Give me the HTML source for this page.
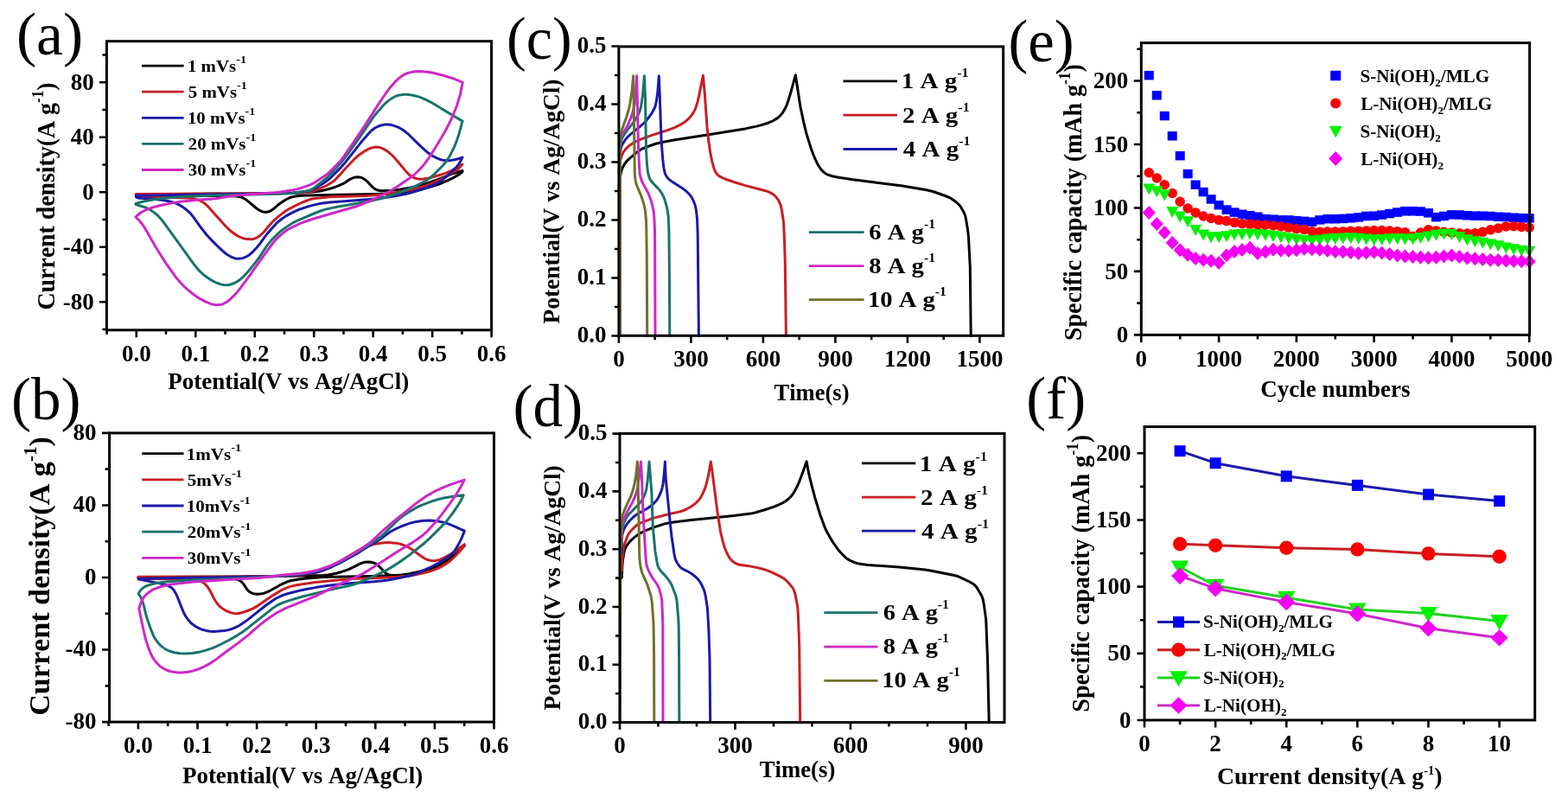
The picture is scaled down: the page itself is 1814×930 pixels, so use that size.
<!DOCTYPE html>
<html><head><meta charset="utf-8"><title>Electrochemical performance figure</title>
<style>html,body{margin:0;padding:0;background:#fff;overflow:hidden}svg{display:block}text{font-kerning:none}</style>
</head><body>
<svg width="1814" height="930" viewBox="0 0 1814 930" font-family="'Liberation Serif','Times New Roman',serif">
<rect width="1814" height="930" fill="#fff"/>
<path d="M716.5 388.3 716.6 298 717 214 717.5 205 718.1 200.5 718.9 197.6 720 194.6 721.4 191.8 723 189.1 724.9 186.6 728.2 183.4 736.5 176.4 740.2 173.7 742.9 172.2 748.6 169.8 752.9 168.2 758.8 166.3 766.2 164.5 781 161.7 824.5 155.1 862 148.9 874 146.4 879.9 144.9 888.6 142.2 894.2 139.8 899.5 136.6 902.8 133.6 905.6 130.1 908.6 125 910.4 120.8 912.4 115.1 915.4 104.8 920.3 86.8 925.9 123.2 929.7 141.1 932.5 152.9 934.2 158.7 938.3 171.8 941 179 943.4 184.6 946 190 948.3 193.8 950.1 196.2 953.3 199.4 955.7 201.1 958.4 202.4 962.8 203.7 970.3 205.3 986.8 207.8 1042.3 214.8 1070.5 219.5 1076.4 220.7 1080.8 222 1093.5 226.5 1099 228.8 1102.8 231.2 1106.4 234 1109.8 237.1 1111.6 239.4 1114.6 244.8 1115.9 247.6 1116.9 250.5 1118.3 257.9 1119.9 268.5 1120.5 274.5 1122.3 309.2 1123.2 388.3" stroke="#000000" stroke-width="3" fill="none" stroke-linejoin="round" stroke-linecap="round"/>
<path d="M716.8 388.3 716.9 251.5 717.3 193 717.6 187 718.1 184 718.9 181 720.8 176.8 722.4 174.3 724.2 172 726.4 169.9 728.7 167.9 733.8 164.5 737.9 162.5 747.9 158.7 756.4 155.7 772.4 150.6 780.9 147.4 786.3 144.7 790.3 142.4 794 139.7 797.4 136.6 799.4 134.3 801.9 130.6 804.1 126.6 805.2 123.9 806.9 118.1 808.7 110.8 813.4 87.3 815.3 108.7 818.1 147.9 820.3 167.3 821.7 176.2 824.1 188.1 826.2 195.2 827.9 199.3 829.6 201.6 831.9 203.6 836 205.8 840.2 207.5 848.9 210.5 860.6 214.1 885.6 220.7 888.4 221.7 891.2 222.9 895 225.2 896.2 226.2 898.2 228.3 900 230.8 901.5 233.4 903.2 237.6 904.2 241.9 906.1 253.8 906.6 258.3 907 265.9 908.2 299.1 909.4 388.3" stroke="#c81e23" stroke-width="3" fill="none" stroke-linejoin="round" stroke-linecap="round"/>
<path d="M717 388.3 717.1 251.5 717.4 185.5 717.5 178 717.9 173.5 718.5 170.6 719.6 167.8 721.9 163.9 724.5 160.2 726.5 158 728.8 155.9 740.8 146.1 745.3 142 748.4 138.5 751.2 134.9 753.9 131.1 756.2 127.1 757.5 124.4 758.5 121.5 759.6 115.6 760.8 106.6 762.3 87.8 763.2 109.1 765.1 163.3 766.9 186 768.1 195 769 199.4 770 202.1 770.7 203.4 772.4 205.8 774.5 207.9 778.1 210.6 791 218.8 794.5 221.7 797.7 224.9 800.3 228.4 802.3 232.4 804.4 238.1 805.3 242.5 806.5 253 807.2 271 808.4 388.3" stroke="#1a1aa8" stroke-width="3" fill="none" stroke-linejoin="round" stroke-linecap="round"/>
<path d="M717 388.3 717.2 245.5 717.5 175 717.7 167.5 718.2 164.5 718.9 161.7 720.9 157.6 725.3 151.2 734.6 139.3 737.6 134.1 740.1 128.7 741 125.8 741.6 122.9 743.6 109.6 745.4 87.8 746.5 112.1 747.5 173.6 748.6 191.8 749.6 199.3 750.6 203.8 751.7 206.6 752.4 208 755.1 211.5 761.5 218.1 763.4 220.4 765.1 222.8 767.3 226.8 769 231 770.7 236.8 772.1 242.7 773 248.7 773.7 259.5 773.9 268.5 774.3 301.5 774.8 388.3" stroke="#19736c" stroke-width="3" fill="none" stroke-linejoin="round" stroke-linecap="round"/>
<path d="M717 388.3 717.2 248.5 717.6 164.5 718.1 160 719 157.2 720.2 154.5 724.4 148 726.6 144 730.2 135.6 732 129.8 734.1 120.8 734.8 116.3 736.7 87.8 738.6 172.1 739.7 194.7 740.1 200.7 741 205.1 742.5 209.5 744.5 213.6 749 221.5 750.9 225.7 753 231.4 754.3 235.8 755.6 241.9 756.4 246.4 756.8 250.9 757.5 266 757.7 293 758 388.3" stroke="#cd28c8" stroke-width="3" fill="none" stroke-linejoin="round" stroke-linecap="round"/>
<path d="M717 388.3 717.2 248.5 717.6 161.5 718.2 155.5 719.1 151.1 724.8 135.2 727.4 126.5 728.5 122.1 731.2 104.2 732.7 87.8 734 178.1 734.3 197.7 734.6 203.7 735.1 208.2 736 212.6 737 215.4 741.3 225.3 743.8 232.6 745.1 237.1 746.1 241.6 746.7 246.2 747.5 255.4 747.8 264.5 748.3 299 748.7 388.3" stroke="#70702d" stroke-width="3" fill="none" stroke-linejoin="round" stroke-linecap="round"/>
<path d="M719.3 668.3 719.9 654.6 720.4 648.5 721.8 639.5 723 635.1 725 631.1 728.7 626.3 733.2 622.1 739.2 617.6 744.6 614.7 754.5 610.6 767.4 606.4 773.3 604.9 779.3 604 797.5 601.8 849 596.5 868.6 594.1 874.5 592.8 886.1 589.2 894.8 586.3 900.4 584.1 906 581.5 909.8 579 912.2 577 914.4 574.9 916.4 572.6 918.2 570.1 921.9 563.3 925 556.3 928.8 546.3 933.1 533.7 935 544.3 936.3 550.4 938.9 560.8 942.8 575.6 948.6 594.7 954.4 610.4 956.3 614.5 960.7 622.5 963.1 626.4 965.6 630.2 969.2 635.2 972.2 638.7 976.3 643.1 979.7 646.1 983.5 648.4 987.6 650.2 991.9 651.6 996.4 652.5 1004 653.4 1040.3 656 1070.2 659.1 1077.6 660.2 1102.7 665.2 1107 666.2 1109.8 667.3 1122 673.2 1124.6 674.6 1127 676.3 1128.1 677.2 1130 679.4 1134.6 687.2 1135.9 689.9 1137 692.7 1138.2 698.6 1140.7 716.6 1142.5 761.9 1144.2 835.6" stroke="#000000" stroke-width="3" fill="none" stroke-linejoin="round" stroke-linecap="round"/>
<path d="M719.3 660 720 645 720.7 638.9 721.7 632.9 722.9 628.5 725.4 621.4 727.3 617.4 729 615 733.1 610.7 736.5 607.6 739 606 741.7 604.6 751.7 600.8 757.5 598.9 773.6 594.8 785.5 592.1 789.9 590.8 794.1 589 798.2 586.8 802 584.3 805.5 581.4 808.6 578.2 810.4 575.8 813.3 570.4 815.7 564.7 817 560.4 819.5 550.2 822.3 533.9 824.6 550.3 830 592.4 833.5 614.8 836.3 626.5 838.4 633.7 840.7 639.3 843.6 644.7 845.3 647.1 847.5 649.2 850 651 852.7 652.3 855.5 653.2 864.6 654.4 875 656.4 882.5 658.2 888.3 660.2 892.6 661.9 903.5 667.2 906.1 668.7 908.6 670.5 911.8 673.6 916.6 679.5 918.2 682 919.2 684.7 920.3 689.1 922.3 699.5 922.9 703.9 923.3 710 924.7 746.2 925.7 835.6" stroke="#c81e23" stroke-width="3" fill="none" stroke-linejoin="round" stroke-linecap="round"/>
<path d="M719.3 640 719.5 623.3 719.8 618.8 720.9 614.4 722.1 611.6 724.4 607.6 726.2 605.1 728.1 602.8 732.4 598.5 734.7 596.5 738.4 593.9 745.2 590.3 749.2 588 752.9 585.3 756.4 582.3 759.4 579 761.1 576.5 763.2 572.4 765.5 566.7 766.2 563.8 767 559.4 768 551.8 769.4 534 770.2 553.7 776.1 612.7 777 620.2 779.8 639.8 781 645.7 782.1 648.5 783.5 651.2 785.2 653.8 787 656.1 789.3 657.9 796 661.2 799.9 663.5 804.7 667.2 807.9 670.4 810.5 674.1 813.9 681 815.3 685.3 816.3 689.8 817.7 698.7 818.5 704.7 819.9 729 821 762 821.7 835.6" stroke="#1a1aa8" stroke-width="3" fill="none" stroke-linejoin="round" stroke-linecap="round"/>
<path d="M719.3 630 719.5 616.4 719.8 611.9 720.8 607.5 723.2 601.7 725.3 597.7 727.2 595.3 738.8 583.4 741.7 579.9 743.4 577.4 744.8 574.8 746 572.1 747 569.2 748 564.8 749.2 555.7 751.1 534 753.9 570.4 755.2 608 758 637.9 760 650 761 654.4 762.1 657.1 762.9 658.4 764.7 660.7 768.9 665.1 771.8 668.6 774.5 672.3 776.8 676.2 778.6 680.4 781.7 689 782.5 692 783.2 696.4 784.8 715.9 785.2 724.9 785.6 761 785.8 835.6" stroke="#19736c" stroke-width="3" fill="none" stroke-linejoin="round" stroke-linecap="round"/>
<path d="M719.3 625 719.5 611.5 719.7 608.5 720.1 605.6 721.5 601.2 724 595.5 726 591.4 731.8 580.8 734.9 573.7 736.4 569.3 737.4 564.8 739.1 554.2 741.4 534 742.5 552.2 743.6 584 745 611.2 747.1 645.7 747.7 651.7 748.3 654.6 749.3 657.5 752.4 664.5 754.8 668.4 759.4 674.6 761.5 678.5 762.6 681.3 764.3 687.1 765.3 691.5 765.7 694.4 766.5 712.4 766.8 722.9 767 835.6" stroke="#cd28c8" stroke-width="3" fill="none" stroke-linejoin="round" stroke-linecap="round"/>
<path d="M717.3 835.6 717.8 643.5 719.3 602.9 719.8 598.5 720.9 594.1 723.7 587.1 729.6 574.4 731.6 568.7 733.3 562.9 734.3 558.5 735.8 549.4 737.4 534 738.2 562.5 739.7 640.5 740.2 649.5 741.4 657.2 742.5 661.7 743.6 664.5 748.7 675.7 751 682.8 753.2 690 754.2 695.9 755.8 716.9 756.1 724.4 756.6 759 756.8 835.6" stroke="#70702d" stroke-width="3" fill="none" stroke-linejoin="round" stroke-linecap="round"/>
<path d="M157.3 225.2 201 224.6 336 223.4 346.5 223.1 355.5 222.6 366.1 221.6 370.6 221 376.5 219.6 385.3 217.2 391 215.2 396.5 212.7 399.1 211.2 404.1 207.8 406.8 206.4 409.7 205.3 411.2 205 414.2 204.8 417.1 205.2 418.6 205.7 421.2 207 424.7 209.8 430 215.4 432.2 217.5 434.8 219.2 436.2 219.8 439.1 220.6 442.1 220.8 452.8 220.3 460.4 219.5 472.5 217.6 488.7 213.6 494.5 211.8 505.9 207.8 524.2 200.7 535 197.5 534.8 199 533.8 199.9 531.5 201.6 525 205.3 515.3 209.8 508.3 212.8 503.9 214.3 493.6 217.4 486.3 219.3 471.5 222 459.3 223.3 451.8 223.9 435.1 224.5 356.6 226 349.1 226.3 341.5 227.1 337.1 228 334.2 229.1 331.4 230.5 327.5 232.9 323.7 235.4 316.8 241.3 314.4 243.1 311.7 244.5 308.9 245.3 307.4 245.4 304.5 245 303.1 244.6 300.4 243.4 297.9 241.8 295.5 240 287.4 233.1 283.8 230.4 279.9 228.3 275.6 227.2 271 226.8 263.4 226.6 162.3 226.5 158 226.2 157.3 225.2" stroke="#000000" stroke-width="3" fill="none" stroke-linejoin="round" stroke-linecap="round"/>
<path d="M157.3 224.6 256.5 224.1 336 223.4 349.5 223 354 222.6 356.9 222.1 364.3 220.2 371.3 217.6 376.8 215.2 383.3 211.4 386.9 208.7 389 206.7 401.2 193.2 410.7 183.3 414.1 180.2 420.4 175.7 425.7 172.6 430.1 170.9 434.5 170.1 437.5 170.2 440.3 170.9 444.4 172.6 448.2 175 451.7 177.8 456 182 460.1 186.7 469.8 198.4 473 201.7 475.4 203.6 478.1 205.2 479.5 205.8 482.4 206.7 486.9 207.2 489.9 207 493 206.6 499 205.3 509.3 202.3 516.5 199.9 520.6 198.2 524.6 196.1 535 190.1 530.9 194.6 527.5 197.6 522.4 200.8 515.9 204.6 506.2 209.1 497.8 212.8 484.9 217.3 479.1 218.9 461.4 222.3 449.2 224.2 440.1 225.2 431 226 423.4 226.5 408.3 227.1 380.9 227.7 364.5 229.4 360.1 230.2 357.2 231.1 350.1 234 343.2 237.2 335 241.3 329.8 244.5 322.4 250.1 316.6 255.3 312.4 259.8 305.5 268 303.4 270.2 301.1 272.2 298.7 274 296 275.4 293.2 276.4 290.2 276.8 285.7 276.6 282.7 276 279.8 275.1 276.9 273.9 274.2 272.5 269.1 269 264.5 265 260.2 260.7 239.8 238 235.2 234.1 231.3 231.9 228.5 230.9 225.5 230.1 222.5 229.6 218 229.1 200 228.6 165.3 228.1 161 227.9 158.4 227.3 157.5 226.7 157.3 224.6" stroke="#c81e23" stroke-width="3" fill="none" stroke-linejoin="round" stroke-linecap="round"/>
<path d="M157.3 226.2 295.5 224.3 333 223.4 339 223.1 343.5 222.7 354 221.3 358.4 220.4 361.2 219.4 363.9 218.1 374.3 211.9 378.1 209.3 382.6 205.4 394.4 193.6 398.5 189.1 417.1 165.3 426 155 430.1 150.7 433.8 148 437.9 146 440.7 145 445.2 144.1 449.7 144 454.2 144.9 459.9 146.9 462.6 148.2 465.3 149.7 469 152.3 471.4 154.3 486.8 169.4 494.9 176.6 499.9 180.1 506.6 183.4 509.4 184.5 512.3 185.2 516.9 185.8 520 185.7 526.1 184.7 530.6 183.5 535 182.1 532.9 186.3 531.2 189 528.5 192.8 526.4 195.1 520.9 200.5 511.4 208.3 507.7 211 503.7 213 493.9 217 486.7 219.5 475 223 469.1 224.5 455.8 227 442.1 229.1 434.6 230 382 233.9 373 235 364 236.9 358.1 238.4 347.8 241.7 342.2 244 335.4 247.4 331.4 249.6 326.3 253 321.4 256.8 319.2 258.9 309 270.6 306.2 274.2 300 282.8 297.1 286.3 292.9 290.8 289.5 293.9 285.8 296.5 281.6 298.4 278.7 299.1 275.7 299.3 272.7 299 271.3 298.7 268.5 297.7 263.3 294.7 260.8 293 257.4 290.2 253 286 246.5 279.6 239.1 271.7 232.5 263.3 223.6 250.9 220.7 247.3 218.6 245.1 215 242.1 210 238.6 206.1 236.3 203.3 235.1 200.4 234.1 196 232.9 190 231.7 184 230.9 175 230.1 164.4 229.6 160.1 229.1 157.7 228.4 157.3 227.2 157.3 226.2" stroke="#1a1aa8" stroke-width="3" fill="none" stroke-linejoin="round" stroke-linecap="round"/>
<path d="M157 235.5 166.1 233 178.2 230.8 185.7 229.8 207 227.8 216 227.3 258 225.7 300 224.8 336 223.7 342 223.1 351 221.6 356.9 220.4 359.7 219.4 362.3 218 364.8 216.3 377.8 206 382.1 201.7 396.3 186 400.9 180.1 415.9 159.1 432.1 135.2 435.9 130.5 443.8 121.5 448.2 117.4 453 113.9 456.9 111.7 461.1 110.2 467 109.3 470 109.2 473 109.4 482 111.2 487.7 113.2 494.7 116.4 500.2 119.2 535 140.1 531 154.9 528.6 162.2 525.2 170.8 520.4 180.2 516.4 186.5 512.5 191.3 501.6 202.2 497 206.2 493.1 208.7 487.8 211.7 479.6 215.8 465.4 221.5 449.6 227.1 442.3 229.2 429 232.4 393 238.8 381 241.1 376.6 242.1 370.8 244 359.6 248.5 344.3 255.1 338.9 257.7 333.8 260.9 325.2 267 320.7 271.1 314.2 277.6 311.3 281.1 308.6 284.7 300.1 297.4 295.5 303.6 287.8 313.2 281.6 319.9 278.2 323 274.5 325.7 270.4 327.8 266.1 329.2 263.1 329.7 258.6 329.5 255.7 328.9 251.4 327.5 247.3 325.6 243.4 323.4 238.4 320 234.8 317.1 230.2 312.8 224.3 305.6 191.3 259.9 187.6 255 183.6 250.4 181.4 248.3 177.9 245.5 172.9 242.2 167.4 239.7 157.3 236.5 157 235.5" stroke="#19736c" stroke-width="3" fill="none" stroke-linejoin="round" stroke-linecap="round"/>
<path d="M157 251 159.4 248.7 163.2 245.8 167.2 243.5 171.5 241.6 177.3 239.8 186.1 237.5 201.1 234.4 208.6 233.3 231.3 231.1 249.5 229.7 266.2 227.1 282.9 225.3 293.5 224.4 317.8 222.8 323.8 222.2 337.3 220.1 343.3 218.9 349.2 217.2 357.9 214.2 360.6 212.9 364.6 210.7 374.8 204 378.5 201.4 384.1 196.2 393.7 186.3 397.3 181.6 409.4 164.2 422.9 143.9 437.6 120.9 447 107 450.7 102.1 457.7 94.1 461 90.9 464.6 88.2 467.1 86.6 469.8 85.2 472.6 84.3 475.5 83.6 480 82.8 484.5 82.5 492 82.9 496.5 83.5 501 84.3 514.4 87.7 525.9 91.4 535.2 95.4 532.5 108.9 528.6 122 523 136 517 148.2 514.1 153.5 502.3 173.1 496.5 182 492.2 188.2 489.4 191.8 486.3 195.1 480.9 200.5 478.6 202.6 475 205.3 462.4 214.1 457.2 217.4 450.7 221.2 441.3 226.2 428.9 232 417.8 236.7 412.2 238.8 365.3 252.3 356.7 255 348.2 258.2 342.7 260.6 334.5 264.6 330.7 267 327.1 269.8 321.4 274.9 318.2 278.2 316.3 280.5 304.6 296.3 289.6 317.7 277.7 333.8 274.8 337.4 270.7 341.9 266.3 346.3 262.7 349.1 258.7 351.3 256 352.3 254.5 352.6 250.1 352.7 247.2 352.3 244.3 351.6 238.7 349.4 231.9 345.9 225.5 341.7 218.2 336 212.4 330.8 208.2 326.3 204.2 321.6 192.6 305.5 189.3 300.4 180.4 286.2 169.9 267.7 166.7 262.5 164.1 258.7 161.2 255.1 157.4 251.5" stroke="#cd28c8" stroke-width="3" fill="none" stroke-linejoin="round" stroke-linecap="round"/>
<path d="M160 667.6 281.5 667 352.2 666 374.8 665.6 379.3 665.1 383.7 664.3 389.7 663 394 661.8 399.7 659.9 404 658.3 417.6 651.6 421.9 650.3 426.4 649.9 429.3 650.2 432.1 651 434.8 652.2 436 653 438.3 654.8 444.5 661.4 446.8 663.3 449.3 664.6 452.1 665.3 455.1 665.5 459.6 665.6 462.6 665.4 483.7 662.3 489.6 661.2 495.4 659.4 509.5 653.7 512.2 652.4 514.8 650.9 521 646.2 526.8 641.2 537.3 631.2 532.1 636.7 528.7 639.9 522.8 644.6 517.7 647.9 509.7 652.3 504.2 654.9 492.6 659.2 485.3 661.2 473.6 663.7 464.6 664.9 458.6 665.5 430 666.5 374.5 667.5 355 668.9 346 670 337.1 671.5 331.3 673.3 323.2 677.2 313.8 682.5 309.7 684.6 305.4 686.2 301 687.1 298.1 687.3 295.1 687.1 292.2 686.4 289.5 685 288.2 684.2 286.1 682.1 281.9 675.9 280 673.6 278.9 672.6 277.7 671.7 275 670.3 270.6 669.3 263 669 165.5 668.6 161.2 668.4 160 668.1 160 667.6" stroke="#000000" stroke-width="3" fill="none" stroke-linejoin="round" stroke-linecap="round"/>
<path d="M160 667.2 250 667 316 666.5 326.5 666.2 349 664.9 355 664.1 367 661.9 371.4 660.7 375.6 659 382.6 655.9 386.6 653.8 402 644 415.1 636.4 420.6 633.8 427.6 631 430.5 630 434.9 629 442.5 627.9 448.5 627.6 457.6 628.2 460.5 628.6 463.5 629.4 469.2 631.5 473.3 633.5 477.2 636 488.4 644.2 490.9 645.8 493.6 647 496.4 648 499.3 648.6 500.7 648.7 503.7 648.5 508.1 647.6 512.3 645.9 516.3 643.9 522.8 640.1 537.3 629.7 534.1 634.9 531.3 638.5 525 645 520.6 649 515.6 652.4 507.8 656.9 503.7 658.7 499.4 660.2 492.1 662.3 487.7 663.4 478.6 665.2 471.1 666.2 462.1 667.1 454.6 667.6 431.9 668.7 410.5 669.3 401.3 669.9 364.9 673.5 349.7 675.7 340.6 677.3 336.2 678.4 331.8 679.9 327.6 681.7 324.8 683.1 315.8 688.6 298.4 700.6 293.2 703.6 287.6 706 281.9 708 277.5 709.2 274.5 709.7 273 709.7 270 709.4 265.6 708.2 262.8 707 260 705.6 257.4 703.9 255 702.1 251.8 698.8 249.2 695 247.6 692.4 243.5 684.1 240.2 678.9 238.2 676.6 236 674.5 233.4 672.9 232.1 672.2 230.7 671.7 227.7 671 223.1 670.4 218.5 670.1 169 669.6 163.1 669.4 160.5 668.9 160 667.8 160 667.2" stroke="#c81e23" stroke-width="3" fill="none" stroke-linejoin="round" stroke-linecap="round"/>
<path d="M160.2 669.5 201 668.5 261 667.8 318 666.8 343.5 665.1 359.9 663 364.4 662.2 367.3 661.5 377.5 658.2 383.2 656 392.8 651.4 410.1 641.9 416.7 638.1 428.3 630.6 439 624.3 448.9 617 452.7 614.5 458.2 611.6 463.9 609 469.5 606.8 475.2 604.9 482.6 603.2 490.2 602.2 497.9 602.1 505.4 602.7 512.8 604.1 518.5 605.9 526.9 609.3 537.3 614.2 534.5 621.6 530.4 629.8 526.5 636.3 524.7 638.7 522.6 641 520.2 643 517.8 644.8 507.4 651.2 498 656.2 488.3 660.7 479.8 664.1 474.1 666 462.1 668.5 448.5 670.9 442.5 671.8 433.4 672.7 401.3 675.1 380.1 677.3 364.9 679.6 353.1 681.8 344.3 683.8 332.5 686.8 328.2 688.2 323.9 690 319.8 692 315.9 694.4 307.2 700.5 286.9 716.6 280.7 721 276.9 723.5 272.9 725.5 267.3 727.8 264.4 728.6 259.8 729.5 248.9 730.4 245.9 730.4 242.8 730.2 238.4 729.4 234 728.3 231.1 727.2 227 725.1 223.2 722.5 220.9 720.5 217.8 717.2 215.2 713.4 212.9 709.4 211 705.2 205.6 691.2 203.7 687 201.4 683 199.4 680.7 198.3 679.7 197 678.9 194.4 677.4 190.2 676 181.3 674.1 161.9 670.4 160.4 670 160.2 669.5" stroke="#1a1aa8" stroke-width="3" fill="none" stroke-linejoin="round" stroke-linecap="round"/>
<path d="M160.2 686.9 161.6 684.1 163.4 681.8 165.7 679.9 168.2 678.3 171 677.2 175.4 675.8 181.4 674.5 187.3 673.5 194.8 672.8 220.5 671 294 668.2 304.5 667.6 330 665.5 348 663.7 361.4 661.5 368.8 659.6 380.4 655.7 390 651.3 395.4 648.5 410.1 640.4 419.3 635 436.1 624.1 439.8 621.5 444.3 617.4 458.3 603.5 461.7 600.4 465.3 597.6 471.5 593.3 481.8 587.1 485.8 585.1 492.9 582.3 501.6 579.2 507.4 577.5 513.4 576 519.4 574.9 527 573.8 536.2 572.8 534.1 577.2 531.1 582.5 527.8 587.7 523.5 593.9 517.9 601.2 513.7 605.9 509.5 610.3 496.6 623.1 491 628.2 472.8 642.6 461.8 650.5 455.4 654.6 447.6 659.2 440.9 662.6 425.7 669.5 411.4 675.4 403.9 677.5 380.1 682.6 349.2 690.3 333 695.1 328.6 696.6 324.4 698.4 320.3 700.4 316.4 702.9 287.7 725.7 280.2 731.2 275 734.6 265.8 740 255 745.5 246.6 749.4 239.3 751.9 231.9 753.9 223 755.4 215.4 756 207.7 755.8 201.6 754.7 195.8 753 191.7 751.1 186.9 747.6 184.7 745.6 181.8 742.2 179.2 738.4 177.1 734.4 173.7 725.8 170.2 715.6 168.9 711.2 166.4 700.6 164.6 694.7 162.7 690.4 160.2 686.9" stroke="#19736c" stroke-width="3" fill="none" stroke-linejoin="round" stroke-linecap="round"/>
<path d="M160.8 703.7 162.2 699.3 164.6 693.7 167 689.9 170.2 686.7 173.8 684 176.4 682.4 179.2 681.1 184.9 679 192.2 677 198.2 676 205.6 674.9 223.9 673.1 258.5 670.7 299 668.6 329 665.1 347 663.3 354.5 662.2 363.4 660.5 369.3 658.9 379.4 655.5 383.6 653.8 391.9 649.9 404.1 643.4 414.5 637 427 628.5 431.7 624.6 441.6 615 452 605.8 481.8 581.9 493 574 502.3 568.7 512 564.1 522.1 560.2 537.3 555.1 532.1 564.8 528.3 571.3 519.6 583.7 510.5 595.9 503.8 604.1 494.7 614.1 490.2 618.2 482.9 623.8 477.9 627.1 461.1 637.3 444.6 648 426.5 659.4 421.3 662.6 417.3 664.8 410.4 668.1 396.1 674.1 364.8 689.6 331.4 703.2 326 705.8 319.3 709.4 314.2 712.7 306.8 718 298.5 724.7 287.2 734.6 282.4 738.4 275.1 744.1 263.8 752.2 248.1 764.1 244.3 766.6 240.4 768.9 235 771.7 230.9 773.5 223.8 775.9 217.9 777.3 210.2 778.1 205.6 778 199.7 777.1 196.7 776.5 193.8 775.5 191 774.3 188.4 772.8 185.8 771.1 183.5 769.1 179.4 764.5 176.7 760.7 174.1 755.3 171.3 748.2 168.5 739.3 167 733.2 163 715 160.8 703.7" stroke="#cd28c8" stroke-width="3" fill="none" stroke-linejoin="round" stroke-linecap="round"/>
<rect x="1323.78" y="81.93" width="11" height="10.5" fill="#0000fa"/>
<rect x="1332.76" y="105" width="11" height="10.5" fill="#0000fa"/>
<rect x="1341.73" y="128.81" width="11" height="10.5" fill="#0000fa"/>
<rect x="1350.71" y="152.03" width="11" height="10.5" fill="#0000fa"/>
<rect x="1359.69" y="174.95" width="11" height="10.5" fill="#0000fa"/>
<rect x="1368.67" y="195.82" width="11" height="10.5" fill="#0000fa"/>
<rect x="1377.65" y="208.46" width="11" height="10.5" fill="#0000fa"/>
<rect x="1386.62" y="216.83" width="11" height="10.5" fill="#0000fa"/>
<rect x="1395.6" y="225.21" width="11" height="10.5" fill="#0000fa"/>
<rect x="1404.58" y="231.97" width="11" height="10.5" fill="#0000fa"/>
<rect x="1413.56" y="237.4" width="11" height="10.5" fill="#0000fa"/>
<rect x="1422.54" y="240.34" width="11" height="10.5" fill="#0000fa"/>
<rect x="1431.51" y="242.55" width="11" height="10.5" fill="#0000fa"/>
<rect x="1440.49" y="244.02" width="11" height="10.5" fill="#0000fa"/>
<rect x="1449.47" y="245.49" width="11" height="10.5" fill="#0000fa"/>
<rect x="1458.45" y="247.98" width="11" height="10.5" fill="#0000fa"/>
<rect x="1467.43" y="248.43" width="11" height="10.5" fill="#0000fa"/>
<rect x="1476.4" y="249.16" width="11" height="10.5" fill="#0000fa"/>
<rect x="1485.38" y="249.16" width="11" height="10.5" fill="#0000fa"/>
<rect x="1494.36" y="249.89" width="11" height="10.5" fill="#0000fa"/>
<rect x="1503.34" y="250.63" width="11" height="10.5" fill="#0000fa"/>
<rect x="1512.32" y="251.36" width="11" height="10.5" fill="#0000fa"/>
<rect x="1521.29" y="249.16" width="11" height="10.5" fill="#0000fa"/>
<rect x="1530.27" y="247.98" width="11" height="10.5" fill="#0000fa"/>
<rect x="1539.25" y="247.98" width="11" height="10.5" fill="#0000fa"/>
<rect x="1548.23" y="247.69" width="11" height="10.5" fill="#0000fa"/>
<rect x="1557.21" y="247.1" width="11" height="10.5" fill="#0000fa"/>
<rect x="1566.18" y="246.22" width="11" height="10.5" fill="#0000fa"/>
<rect x="1575.16" y="244.75" width="11" height="10.5" fill="#0000fa"/>
<rect x="1584.14" y="244.46" width="11" height="10.5" fill="#0000fa"/>
<rect x="1593.12" y="243.28" width="11" height="10.5" fill="#0000fa"/>
<rect x="1602.1" y="241.81" width="11" height="10.5" fill="#0000fa"/>
<rect x="1611.07" y="240.34" width="11" height="10.5" fill="#0000fa"/>
<rect x="1620.05" y="239.02" width="11" height="10.5" fill="#0000fa"/>
<rect x="1629.03" y="239.02" width="11" height="10.5" fill="#0000fa"/>
<rect x="1638.01" y="239.31" width="11" height="10.5" fill="#0000fa"/>
<rect x="1646.99" y="241.08" width="11" height="10.5" fill="#0000fa"/>
<rect x="1655.96" y="245.93" width="11" height="10.5" fill="#0000fa"/>
<rect x="1664.94" y="244.75" width="11" height="10.5" fill="#0000fa"/>
<rect x="1673.92" y="243.14" width="11" height="10.5" fill="#0000fa"/>
<rect x="1682.9" y="243.28" width="11" height="10.5" fill="#0000fa"/>
<rect x="1691.88" y="244.02" width="11" height="10.5" fill="#0000fa"/>
<rect x="1700.85" y="244.46" width="11" height="10.5" fill="#0000fa"/>
<rect x="1709.83" y="244.46" width="11" height="10.5" fill="#0000fa"/>
<rect x="1718.81" y="244.75" width="11" height="10.5" fill="#0000fa"/>
<rect x="1727.79" y="245.49" width="11" height="10.5" fill="#0000fa"/>
<rect x="1736.77" y="245.78" width="11" height="10.5" fill="#0000fa"/>
<rect x="1745.74" y="246.52" width="11" height="10.5" fill="#0000fa"/>
<rect x="1754.72" y="246.96" width="11" height="10.5" fill="#0000fa"/>
<rect x="1763.7" y="247.1" width="11" height="10.5" fill="#0000fa"/>
<ellipse cx="1329.28" cy="199.74" rx="5.75" ry="5.75" fill="#fa0000"/>
<ellipse cx="1338.26" cy="205.92" rx="5.75" ry="5.75" fill="#fa0000"/>
<ellipse cx="1347.23" cy="213.71" rx="5.75" ry="5.75" fill="#fa0000"/>
<ellipse cx="1356.21" cy="223.55" rx="5.75" ry="5.75" fill="#fa0000"/>
<ellipse cx="1365.19" cy="233.25" rx="5.75" ry="5.75" fill="#fa0000"/>
<ellipse cx="1374.17" cy="241.04" rx="5.75" ry="5.75" fill="#fa0000"/>
<ellipse cx="1383.15" cy="245.89" rx="5.75" ry="5.75" fill="#fa0000"/>
<ellipse cx="1392.12" cy="250" rx="5.75" ry="5.75" fill="#fa0000"/>
<ellipse cx="1401.1" cy="252.5" rx="5.75" ry="5.75" fill="#fa0000"/>
<ellipse cx="1410.08" cy="254.41" rx="5.75" ry="5.75" fill="#fa0000"/>
<ellipse cx="1419.06" cy="255.59" rx="5.75" ry="5.75" fill="#fa0000"/>
<ellipse cx="1428.04" cy="257.35" rx="5.75" ry="5.75" fill="#fa0000"/>
<ellipse cx="1437.01" cy="258.67" rx="5.75" ry="5.75" fill="#fa0000"/>
<ellipse cx="1445.99" cy="259.26" rx="5.75" ry="5.75" fill="#fa0000"/>
<ellipse cx="1454.97" cy="259.85" rx="5.75" ry="5.75" fill="#fa0000"/>
<ellipse cx="1463.95" cy="260.29" rx="5.75" ry="5.75" fill="#fa0000"/>
<ellipse cx="1472.93" cy="261.02" rx="5.75" ry="5.75" fill="#fa0000"/>
<ellipse cx="1481.9" cy="261.9" rx="5.75" ry="5.75" fill="#fa0000"/>
<ellipse cx="1490.88" cy="263.23" rx="5.75" ry="5.75" fill="#fa0000"/>
<ellipse cx="1499.86" cy="264.7" rx="5.75" ry="5.75" fill="#fa0000"/>
<ellipse cx="1508.84" cy="265.43" rx="5.75" ry="5.75" fill="#fa0000"/>
<ellipse cx="1517.82" cy="267.64" rx="5.75" ry="5.75" fill="#fa0000"/>
<ellipse cx="1526.79" cy="268.37" rx="5.75" ry="5.75" fill="#fa0000"/>
<ellipse cx="1535.77" cy="267.93" rx="5.75" ry="5.75" fill="#fa0000"/>
<ellipse cx="1544.75" cy="267.93" rx="5.75" ry="5.75" fill="#fa0000"/>
<ellipse cx="1553.73" cy="267.64" rx="5.75" ry="5.75" fill="#fa0000"/>
<ellipse cx="1562.71" cy="267.34" rx="5.75" ry="5.75" fill="#fa0000"/>
<ellipse cx="1571.68" cy="267.19" rx="5.75" ry="5.75" fill="#fa0000"/>
<ellipse cx="1580.66" cy="266.9" rx="5.75" ry="5.75" fill="#fa0000"/>
<ellipse cx="1589.64" cy="266.61" rx="5.75" ry="5.75" fill="#fa0000"/>
<ellipse cx="1598.62" cy="266.61" rx="5.75" ry="5.75" fill="#fa0000"/>
<ellipse cx="1607.6" cy="266.9" rx="5.75" ry="5.75" fill="#fa0000"/>
<ellipse cx="1616.57" cy="267.64" rx="5.75" ry="5.75" fill="#fa0000"/>
<ellipse cx="1625.55" cy="268.66" rx="5.75" ry="5.75" fill="#fa0000"/>
<ellipse cx="1634.53" cy="273.37" rx="5.75" ry="5.75" fill="#fa0000"/>
<ellipse cx="1643.51" cy="269.11" rx="5.75" ry="5.75" fill="#fa0000"/>
<ellipse cx="1652.49" cy="265.87" rx="5.75" ry="5.75" fill="#fa0000"/>
<ellipse cx="1661.46" cy="266.9" rx="5.75" ry="5.75" fill="#fa0000"/>
<ellipse cx="1670.44" cy="268.37" rx="5.75" ry="5.75" fill="#fa0000"/>
<ellipse cx="1679.42" cy="269.11" rx="5.75" ry="5.75" fill="#fa0000"/>
<ellipse cx="1688.4" cy="269.84" rx="5.75" ry="5.75" fill="#fa0000"/>
<ellipse cx="1697.38" cy="269.99" rx="5.75" ry="5.75" fill="#fa0000"/>
<ellipse cx="1706.35" cy="269.84" rx="5.75" ry="5.75" fill="#fa0000"/>
<ellipse cx="1715.33" cy="268.37" rx="5.75" ry="5.75" fill="#fa0000"/>
<ellipse cx="1724.31" cy="265.87" rx="5.75" ry="5.75" fill="#fa0000"/>
<ellipse cx="1733.29" cy="263.96" rx="5.75" ry="5.75" fill="#fa0000"/>
<ellipse cx="1742.27" cy="261.9" rx="5.75" ry="5.75" fill="#fa0000"/>
<ellipse cx="1751.24" cy="261.76" rx="5.75" ry="5.75" fill="#fa0000"/>
<ellipse cx="1760.22" cy="262.49" rx="5.75" ry="5.75" fill="#fa0000"/>
<ellipse cx="1769.2" cy="263.23" rx="5.75" ry="5.75" fill="#fa0000"/>
<path d="M1322.28 212.51H1336.28L1329.28 225.51Z" fill="#00f000"/>
<path d="M1331.26 215.3H1345.26L1338.26 228.3Z" fill="#00f000"/>
<path d="M1340.23 219.41H1354.23L1347.23 232.41Z" fill="#00f000"/>
<path d="M1349.21 238.96H1363.21L1356.21 251.96Z" fill="#00f000"/>
<path d="M1358.19 244.54H1372.19L1365.19 257.54Z" fill="#00f000"/>
<path d="M1367.17 250.13H1381.17L1374.17 263.13Z" fill="#00f000"/>
<path d="M1376.15 259.97H1390.15L1383.15 272.97Z" fill="#00f000"/>
<path d="M1385.12 265.56H1399.12L1392.12 278.56Z" fill="#00f000"/>
<path d="M1394.1 268.35H1408.1L1401.1 281.35Z" fill="#00f000"/>
<path d="M1403.08 268.35H1417.08L1410.08 281.35Z" fill="#00f000"/>
<path d="M1412.06 267.32H1426.06L1419.06 280.32Z" fill="#00f000"/>
<path d="M1421.04 265.56H1435.04L1428.04 278.56Z" fill="#00f000"/>
<path d="M1430.01 265.11H1444.01L1437.01 278.11Z" fill="#00f000"/>
<path d="M1438.99 264.38H1452.99L1445.99 277.38Z" fill="#00f000"/>
<path d="M1447.97 265.11H1461.97L1454.97 278.11Z" fill="#00f000"/>
<path d="M1456.95 265.85H1470.95L1463.95 278.85Z" fill="#00f000"/>
<path d="M1465.93 267.03H1479.93L1472.93 280.03Z" fill="#00f000"/>
<path d="M1474.9 268.35H1488.9L1481.9 281.35Z" fill="#00f000"/>
<path d="M1483.88 269.52H1497.88L1490.88 282.52Z" fill="#00f000"/>
<path d="M1492.86 270.99H1506.86L1499.86 283.99Z" fill="#00f000"/>
<path d="M1501.84 271.73H1515.84L1508.84 284.73Z" fill="#00f000"/>
<path d="M1510.82 272.61H1524.82L1517.82 285.61Z" fill="#00f000"/>
<path d="M1519.79 271.73H1533.79L1526.79 284.73Z" fill="#00f000"/>
<path d="M1528.77 270.4H1542.77L1535.77 283.4Z" fill="#00f000"/>
<path d="M1537.75 269.96H1551.75L1544.75 282.96Z" fill="#00f000"/>
<path d="M1546.73 269.52H1560.73L1553.73 282.52Z" fill="#00f000"/>
<path d="M1555.71 269.23H1569.71L1562.71 282.23Z" fill="#00f000"/>
<path d="M1564.68 269.82H1578.68L1571.68 282.82Z" fill="#00f000"/>
<path d="M1573.66 270.55H1587.66L1580.66 283.55Z" fill="#00f000"/>
<path d="M1582.64 271.29H1596.64L1589.64 284.29Z" fill="#00f000"/>
<path d="M1591.62 270.99H1605.62L1598.62 283.99Z" fill="#00f000"/>
<path d="M1600.6 270.26H1614.6L1607.6 283.26Z" fill="#00f000"/>
<path d="M1609.57 269.96H1623.57L1616.57 282.96Z" fill="#00f000"/>
<path d="M1618.55 270.55H1632.55L1625.55 283.55Z" fill="#00f000"/>
<path d="M1627.53 270.26H1641.53L1634.53 283.26Z" fill="#00f000"/>
<path d="M1636.51 269.08H1650.51L1643.51 282.08Z" fill="#00f000"/>
<path d="M1645.49 267.61H1659.49L1652.49 280.61Z" fill="#00f000"/>
<path d="M1654.46 265.85H1668.46L1661.46 278.85Z" fill="#00f000"/>
<path d="M1663.44 264.53H1677.44L1670.44 277.53Z" fill="#00f000"/>
<path d="M1672.42 265.11H1686.42L1679.42 278.11Z" fill="#00f000"/>
<path d="M1681.4 268.05H1695.4L1688.4 281.05Z" fill="#00f000"/>
<path d="M1690.38 271.29H1704.38L1697.38 284.29Z" fill="#00f000"/>
<path d="M1699.35 273.2H1713.35L1706.35 286.2Z" fill="#00f000"/>
<path d="M1708.33 274.67H1722.33L1715.33 287.67Z" fill="#00f000"/>
<path d="M1717.31 276.58H1731.31L1724.31 289.58Z" fill="#00f000"/>
<path d="M1726.29 278.34H1740.29L1733.29 291.34Z" fill="#00f000"/>
<path d="M1735.27 280.54H1749.27L1742.27 293.54Z" fill="#00f000"/>
<path d="M1744.24 282.31H1758.24L1751.24 295.31Z" fill="#00f000"/>
<path d="M1753.22 283.78H1767.22L1760.22 296.78Z" fill="#00f000"/>
<path d="M1762.2 284.81H1776.2L1769.2 297.81Z" fill="#00f000"/>
<path d="M1329.28 237.89L1336.78 245.89L1329.28 253.89L1321.78 245.89Z" fill="#f500f5"/>
<path d="M1338.26 250.97L1345.76 258.97L1338.26 266.97L1330.76 258.97Z" fill="#f500f5"/>
<path d="M1347.23 261.11L1354.73 269.11L1347.23 277.11L1339.73 269.11Z" fill="#f500f5"/>
<path d="M1356.21 272.86L1363.71 280.86L1356.21 288.86L1348.71 280.86Z" fill="#f500f5"/>
<path d="M1365.19 281.24L1372.69 289.24L1365.19 297.24L1357.69 289.24Z" fill="#f500f5"/>
<path d="M1374.17 286.82L1381.67 294.82L1374.17 302.82L1366.67 294.82Z" fill="#f500f5"/>
<path d="M1383.15 290.94L1390.65 298.94L1383.15 306.94L1375.65 298.94Z" fill="#f500f5"/>
<path d="M1392.12 292.85L1399.62 300.85L1392.12 308.85L1384.62 300.85Z" fill="#f500f5"/>
<path d="M1401.1 293.73L1408.6 301.73L1401.1 309.73L1393.6 301.73Z" fill="#f500f5"/>
<path d="M1410.08 295.93L1417.58 303.93L1410.08 311.93L1402.58 303.93Z" fill="#f500f5"/>
<path d="M1419.06 287.26L1426.56 295.26L1419.06 303.26L1411.56 295.26Z" fill="#f500f5"/>
<path d="M1428.04 283L1435.54 291L1428.04 299L1420.54 291Z" fill="#f500f5"/>
<path d="M1437.01 280.94L1444.51 288.94L1437.01 296.94L1429.51 288.94Z" fill="#f500f5"/>
<path d="M1445.99 278.74L1453.49 286.74L1445.99 294.74L1438.49 286.74Z" fill="#f500f5"/>
<path d="M1454.97 285.06L1462.47 293.06L1454.97 301.06L1447.47 293.06Z" fill="#f500f5"/>
<path d="M1463.95 283.15L1471.45 291.15L1463.95 299.15L1456.45 291.15Z" fill="#f500f5"/>
<path d="M1472.93 280.8L1480.43 288.8L1472.93 296.8L1465.43 288.8Z" fill="#f500f5"/>
<path d="M1481.9 281.68L1489.4 289.68L1481.9 297.68L1474.4 289.68Z" fill="#f500f5"/>
<path d="M1490.88 281.97L1498.38 289.97L1490.88 297.97L1483.38 289.97Z" fill="#f500f5"/>
<path d="M1499.86 281.24L1507.36 289.24L1499.86 297.24L1492.36 289.24Z" fill="#f500f5"/>
<path d="M1508.84 279.77L1516.34 287.77L1508.84 295.77L1501.34 287.77Z" fill="#f500f5"/>
<path d="M1517.82 280.21L1525.32 288.21L1517.82 296.21L1510.32 288.21Z" fill="#f500f5"/>
<path d="M1526.79 280.8L1534.29 288.8L1526.79 296.8L1519.29 288.8Z" fill="#f500f5"/>
<path d="M1535.77 281.68L1543.27 289.68L1535.77 297.68L1528.27 289.68Z" fill="#f500f5"/>
<path d="M1544.75 283L1552.25 291L1544.75 299L1537.25 291Z" fill="#f500f5"/>
<path d="M1553.73 283.15L1561.23 291.15L1553.73 299.15L1546.23 291.15Z" fill="#f500f5"/>
<path d="M1562.71 283.88L1570.21 291.88L1562.71 299.88L1555.21 291.88Z" fill="#f500f5"/>
<path d="M1571.68 284.91L1579.18 292.91L1571.68 300.91L1564.18 292.91Z" fill="#f500f5"/>
<path d="M1580.66 284.18L1588.16 292.18L1580.66 300.18L1573.16 292.18Z" fill="#f500f5"/>
<path d="M1589.64 283.59L1597.14 291.59L1589.64 299.59L1582.14 291.59Z" fill="#f500f5"/>
<path d="M1598.62 284.62L1606.12 292.62L1598.62 300.62L1591.12 292.62Z" fill="#f500f5"/>
<path d="M1607.6 286.09L1615.1 294.09L1607.6 302.09L1600.1 294.09Z" fill="#f500f5"/>
<path d="M1616.57 287.56L1624.07 295.56L1616.57 303.56L1609.07 295.56Z" fill="#f500f5"/>
<path d="M1625.55 288.58L1633.05 296.58L1625.55 304.58L1618.05 296.58Z" fill="#f500f5"/>
<path d="M1634.53 289.03L1642.03 297.03L1634.53 305.03L1627.03 297.03Z" fill="#f500f5"/>
<path d="M1643.51 289.76L1651.01 297.76L1643.51 305.76L1636.01 297.76Z" fill="#f500f5"/>
<path d="M1652.49 290.35L1659.99 298.35L1652.49 306.35L1644.99 298.35Z" fill="#f500f5"/>
<path d="M1661.46 289.76L1668.96 297.76L1661.46 305.76L1653.96 297.76Z" fill="#f500f5"/>
<path d="M1670.44 288.58L1677.94 296.58L1670.44 304.58L1662.94 296.58Z" fill="#f500f5"/>
<path d="M1679.42 287.56L1686.92 295.56L1679.42 303.56L1671.92 295.56Z" fill="#f500f5"/>
<path d="M1688.4 289.03L1695.9 297.03L1688.4 305.03L1680.9 297.03Z" fill="#f500f5"/>
<path d="M1697.38 290.5L1704.88 298.5L1697.38 306.5L1689.88 298.5Z" fill="#f500f5"/>
<path d="M1706.35 291.23L1713.85 299.23L1706.35 307.23L1698.85 299.23Z" fill="#f500f5"/>
<path d="M1715.33 291.96L1722.83 299.96L1715.33 307.96L1707.83 299.96Z" fill="#f500f5"/>
<path d="M1724.31 292.7L1731.81 300.7L1724.31 308.7L1716.81 300.7Z" fill="#f500f5"/>
<path d="M1733.29 292.99L1740.79 300.99L1733.29 308.99L1725.79 300.99Z" fill="#f500f5"/>
<path d="M1742.27 293.43L1749.77 301.43L1742.27 309.43L1734.77 301.43Z" fill="#f500f5"/>
<path d="M1751.24 293.88L1758.74 301.88L1751.24 309.88L1743.74 301.88Z" fill="#f500f5"/>
<path d="M1760.22 294.17L1767.72 302.17L1760.22 310.17L1752.72 302.17Z" fill="#f500f5"/>
<path d="M1769.2 294.46L1776.7 302.46L1769.2 310.46L1761.7 302.46Z" fill="#f500f5"/>
<path d="M1365.1 521.7 1406.1 535.7 1488.2 550.8 1652.5 572 1734.6 579.6" stroke="#1a1aa8" stroke-width="3" fill="none" stroke-linejoin="round" stroke-linecap="round"/>
<rect x="1358.56" y="515.18" width="13" height="13" fill="#0000fa"/>
<rect x="1399.62" y="529.22" width="13" height="13" fill="#0000fa"/>
<rect x="1481.74" y="544.35" width="13" height="13" fill="#0000fa"/>
<rect x="1563.86" y="554.84" width="13" height="13" fill="#0000fa"/>
<rect x="1645.98" y="565.49" width="13" height="13" fill="#0000fa"/>
<rect x="1728.1" y="573.06" width="13" height="13" fill="#0000fa"/>
<path d="M1365.1 629.3 1488.2 633.7 1570.4 635.4 1652.5 640.4 1734.6 643.8" stroke="#c81e23" stroke-width="3" fill="none" stroke-linejoin="round" stroke-linecap="round"/>
<ellipse cx="1365.06" cy="629.26" rx="8.15" ry="8.15" fill="#fa0000"/>
<ellipse cx="1406.12" cy="630.8" rx="8.15" ry="8.15" fill="#fa0000"/>
<ellipse cx="1488.24" cy="633.73" rx="8.15" ry="8.15" fill="#fa0000"/>
<ellipse cx="1570.36" cy="635.43" rx="8.15" ry="8.15" fill="#fa0000"/>
<ellipse cx="1652.48" cy="640.37" rx="8.15" ry="8.15" fill="#fa0000"/>
<ellipse cx="1734.6" cy="643.77" rx="8.15" ry="8.15" fill="#fa0000"/>
<path d="M1365.1 656 1406.1 677.3 1488.2 691.3 1570.4 705 1652.5 709.5 1734.6 718.6" stroke="#1ed21e" stroke-width="3" fill="none" stroke-linejoin="round" stroke-linecap="round"/>
<path d="M1354.81 648.4H1375.31L1365.06 666.4Z" fill="#00f000"/>
<path d="M1395.87 669.7H1416.37L1406.12 687.7Z" fill="#00f000"/>
<path d="M1477.99 683.75H1498.49L1488.24 701.75Z" fill="#00f000"/>
<path d="M1560.11 697.48H1580.61L1570.36 715.48Z" fill="#00f000"/>
<path d="M1642.23 701.96H1662.73L1652.48 719.96Z" fill="#00f000"/>
<path d="M1724.35 711.07H1744.85L1734.6 729.07Z" fill="#00f000"/>
<path d="M1365.1 666.1 1406.1 680.7 1488.2 696.4 1570.4 710 1652.5 726.7 1734.6 737.8" stroke="#cd28c8" stroke-width="3" fill="none" stroke-linejoin="round" stroke-linecap="round"/>
<path d="M1365.06 656.4L1375.06 666.15L1365.06 675.9L1355.06 666.15Z" fill="#f500f5"/>
<path d="M1406.12 670.91L1416.12 680.66L1406.12 690.41L1396.12 680.66Z" fill="#f500f5"/>
<path d="M1488.24 686.65L1498.24 696.4L1488.24 706.15L1478.24 696.4Z" fill="#f500f5"/>
<path d="M1570.36 700.23L1580.36 709.98L1570.36 719.73L1560.36 709.98Z" fill="#f500f5"/>
<path d="M1652.48 716.9L1662.48 726.65L1652.48 736.4L1642.48 726.65Z" fill="#f500f5"/>
<path d="M1734.6 728.02L1744.6 737.77L1734.6 747.52L1724.6 737.77Z" fill="#f500f5"/>
<rect x="123.4" y="47.7" width="445.2" height="334.1" fill="none" stroke="#000" stroke-width="3"/>
<path d="M157.8 381.8v8.5 M226.27 381.8v8.5 M294.74 381.8v8.5 M363.21 381.8v8.5 M431.68 381.8v8.5 M500.15 381.8v8.5 M568.62 381.8v8.5 M123.56 381.8v5 M192.04 381.8v5 M260.5 381.8v5 M328.98 381.8v5 M397.45 381.8v5 M465.92 381.8v5 M534.38 381.8v5 M123.4 349.3h-8.5 M123.4 285.8h-8.5 M123.4 222.3h-8.5 M123.4 158.8h-8.5 M123.4 95.3h-8.5 M123.4 381.05h-5 M123.4 317.55h-5 M123.4 254.05h-5 M123.4 190.55h-5 M123.4 127.05h-5 M123.4 63.55h-5" stroke="#000" stroke-width="2.6" fill="none"/>
<text x="157.8" y="418" font-size="27" font-weight="bold" text-anchor="middle">0.0</text>
<text x="226.27" y="418" font-size="27" font-weight="bold" text-anchor="middle">0.1</text>
<text x="294.74" y="418" font-size="27" font-weight="bold" text-anchor="middle">0.2</text>
<text x="363.21" y="418" font-size="27" font-weight="bold" text-anchor="middle">0.3</text>
<text x="431.68" y="418" font-size="27" font-weight="bold" text-anchor="middle">0.4</text>
<text x="500.15" y="418" font-size="27" font-weight="bold" text-anchor="middle">0.5</text>
<text x="568.62" y="418" font-size="27" font-weight="bold" text-anchor="middle">0.6</text>
<text x="108.8" y="357.5" font-size="27" font-weight="bold" text-anchor="end">-80</text>
<text x="108.8" y="294" font-size="27" font-weight="bold" text-anchor="end">-40</text>
<text x="108.8" y="230.5" font-size="27" font-weight="bold" text-anchor="end">0</text>
<text x="108.8" y="167" font-size="27" font-weight="bold" text-anchor="end">40</text>
<text x="108.8" y="103.5" font-size="27" font-weight="bold" text-anchor="end">80</text>
<rect x="126.6" y="500.9" width="444.9" height="334.2" fill="none" stroke="#000" stroke-width="3"/>
<path d="M159.9 835.1v8.5 M228.5 835.1v8.5 M297.1 835.1v8.5 M365.7 835.1v8.5 M434.3 835.1v8.5 M502.9 835.1v8.5 M571.5 835.1v8.5 M125.6 835.1v5 M194.2 835.1v5 M262.8 835.1v5 M331.4 835.1v5 M400 835.1v5 M468.6 835.1v5 M537.2 835.1v5 M126.6 835.1h-8.5 M126.6 751.55h-8.5 M126.6 668h-8.5 M126.6 584.45h-8.5 M126.6 500.9h-8.5 M126.6 793.33h-5 M126.6 709.78h-5 M126.6 626.22h-5 M126.6 542.67h-5" stroke="#000" stroke-width="2.6" fill="none"/>
<text x="159.9" y="871" font-size="27" font-weight="bold" text-anchor="middle">0.0</text>
<text x="228.5" y="871" font-size="27" font-weight="bold" text-anchor="middle">0.1</text>
<text x="297.1" y="871" font-size="27" font-weight="bold" text-anchor="middle">0.2</text>
<text x="365.7" y="871" font-size="27" font-weight="bold" text-anchor="middle">0.3</text>
<text x="434.3" y="871" font-size="27" font-weight="bold" text-anchor="middle">0.4</text>
<text x="502.9" y="871" font-size="27" font-weight="bold" text-anchor="middle">0.5</text>
<text x="571.5" y="871" font-size="27" font-weight="bold" text-anchor="middle">0.6</text>
<text x="111.6" y="842.9" font-size="27" font-weight="bold" text-anchor="end">-80</text>
<text x="111.6" y="759.35" font-size="27" font-weight="bold" text-anchor="end">-40</text>
<text x="111.6" y="675.8" font-size="27" font-weight="bold" text-anchor="end">0</text>
<text x="111.6" y="592.25" font-size="27" font-weight="bold" text-anchor="end">40</text>
<text x="111.6" y="508.7" font-size="27" font-weight="bold" text-anchor="end">80</text>
<rect x="715.9" y="53.9" width="444.8" height="334.4" fill="none" stroke="#000" stroke-width="3"/>
<path d="M715.9 388.3v8.5 M799.4 388.3v8.5 M882.9 388.3v8.5 M966.4 388.3v8.5 M1049.9 388.3v8.5 M1133.39 388.3v8.5 M757.65 388.3v5 M841.15 388.3v5 M924.65 388.3v5 M1008.15 388.3v5 M1091.65 388.3v5 M715.9 388.5h-8.5 M715.9 321.5h-8.5 M715.9 254.5h-8.5 M715.9 187.5h-8.5 M715.9 120.5h-8.5 M715.9 53.5h-8.5 M715.9 355h-5 M715.9 288h-5 M715.9 221h-5 M715.9 154h-5 M715.9 87h-5" stroke="#000" stroke-width="2.6" fill="none"/>
<text x="715.9" y="424" font-size="27" font-weight="bold" text-anchor="middle">0</text>
<text x="799.4" y="424" font-size="27" font-weight="bold" text-anchor="middle">300</text>
<text x="882.9" y="424" font-size="27" font-weight="bold" text-anchor="middle">600</text>
<text x="966.4" y="424" font-size="27" font-weight="bold" text-anchor="middle">900</text>
<text x="1049.9" y="424" font-size="27" font-weight="bold" text-anchor="middle">1200</text>
<text x="1133.39" y="424" font-size="27" font-weight="bold" text-anchor="middle">1500</text>
<text x="701.4" y="396.4" font-size="27" font-weight="bold" text-anchor="end">0.0</text>
<text x="701.4" y="329.4" font-size="27" font-weight="bold" text-anchor="end">0.1</text>
<text x="701.4" y="262.4" font-size="27" font-weight="bold" text-anchor="end">0.2</text>
<text x="701.4" y="195.4" font-size="27" font-weight="bold" text-anchor="end">0.3</text>
<text x="701.4" y="128.4" font-size="27" font-weight="bold" text-anchor="end">0.4</text>
<text x="701.4" y="61.4" font-size="27" font-weight="bold" text-anchor="end">0.5</text>
<rect x="717" y="501.5" width="445" height="334.1" fill="none" stroke="#000" stroke-width="3"/>
<path d="M717 835.6v8.5 M850.47 835.6v8.5 M983.94 835.6v8.5 M1117.41 835.6v8.5 M761.49 835.6v5 M805.98 835.6v5 M894.96 835.6v5 M939.45 835.6v5 M1028.43 835.6v5 M1072.92 835.6v5 M717 835.6h-8.5 M717 768.8h-8.5 M717 702h-8.5 M717 635.2h-8.5 M717 568.4h-8.5 M717 501.6h-8.5 M717 802.2h-5 M717 735.4h-5 M717 668.6h-5 M717 601.8h-5 M717 535h-5" stroke="#000" stroke-width="2.6" fill="none"/>
<text x="717" y="870.8" font-size="27" font-weight="bold" text-anchor="middle">0</text>
<text x="850.47" y="870.8" font-size="27" font-weight="bold" text-anchor="middle">300</text>
<text x="983.94" y="870.8" font-size="27" font-weight="bold" text-anchor="middle">600</text>
<text x="1117.41" y="870.8" font-size="27" font-weight="bold" text-anchor="middle">900</text>
<text x="702.5" y="843.2" font-size="27" font-weight="bold" text-anchor="end">0.0</text>
<text x="702.5" y="776.4" font-size="27" font-weight="bold" text-anchor="end">0.1</text>
<text x="702.5" y="709.6" font-size="27" font-weight="bold" text-anchor="end">0.2</text>
<text x="702.5" y="642.8" font-size="27" font-weight="bold" text-anchor="end">0.3</text>
<text x="702.5" y="576" font-size="27" font-weight="bold" text-anchor="end">0.4</text>
<text x="702.5" y="509.2" font-size="27" font-weight="bold" text-anchor="end">0.5</text>
<rect x="1320.3" y="49.6" width="449.3" height="337.8" fill="none" stroke="#000" stroke-width="3"/>
<path d="M1320.3 387.4v8.5 M1410.08 387.4v8.5 M1499.86 387.4v8.5 M1589.64 387.4v8.5 M1679.42 387.4v8.5 M1769.2 387.4v8.5 M1365.19 387.4v5 M1454.97 387.4v5 M1544.75 387.4v5 M1634.53 387.4v5 M1724.31 387.4v5 M1320.3 387.4h-8.5 M1320.3 313.92h-8.5 M1320.3 240.45h-8.5 M1320.3 166.97h-8.5 M1320.3 93.5h-8.5 M1320.3 350.66h-5 M1320.3 277.19h-5 M1320.3 203.71h-5 M1320.3 130.24h-5 M1320.3 56.76h-5" stroke="#000" stroke-width="2.6" fill="none"/>
<text x="1320.3" y="423.5" font-size="27" font-weight="bold" text-anchor="middle">0</text>
<text x="1410.08" y="423.5" font-size="27" font-weight="bold" text-anchor="middle">1000</text>
<text x="1499.86" y="423.5" font-size="27" font-weight="bold" text-anchor="middle">2000</text>
<text x="1589.64" y="423.5" font-size="27" font-weight="bold" text-anchor="middle">3000</text>
<text x="1679.42" y="423.5" font-size="27" font-weight="bold" text-anchor="middle">4000</text>
<text x="1769.2" y="423.5" font-size="27" font-weight="bold" text-anchor="middle">5000</text>
<text x="1305.2" y="396" font-size="27" font-weight="bold" text-anchor="end">0</text>
<text x="1305.2" y="322.52" font-size="27" font-weight="bold" text-anchor="end">50</text>
<text x="1305.2" y="249.05" font-size="27" font-weight="bold" text-anchor="end">100</text>
<text x="1305.2" y="175.57" font-size="27" font-weight="bold" text-anchor="end">150</text>
<text x="1305.2" y="102.1" font-size="27" font-weight="bold" text-anchor="end">200</text>
<rect x="1324" y="493.6" width="451.7" height="339.4" fill="none" stroke="#000" stroke-width="3"/>
<path d="M1324 833v8.5 M1406.12 833v8.5 M1488.24 833v8.5 M1570.36 833v8.5 M1652.48 833v8.5 M1734.6 833v8.5 M1365.06 833v5 M1447.18 833v5 M1529.3 833v5 M1611.42 833v5 M1693.54 833v5 M1324 833h-8.5 M1324 755.83h-8.5 M1324 678.65h-8.5 M1324 601.48h-8.5 M1324 524.3h-8.5 M1324 794.41h-5 M1324 717.24h-5 M1324 640.06h-5 M1324 562.89h-5" stroke="#000" stroke-width="2.6" fill="none"/>
<text x="1324" y="869.2" font-size="27" font-weight="bold" text-anchor="middle">0</text>
<text x="1406.12" y="869.2" font-size="27" font-weight="bold" text-anchor="middle">2</text>
<text x="1488.24" y="869.2" font-size="27" font-weight="bold" text-anchor="middle">4</text>
<text x="1570.36" y="869.2" font-size="27" font-weight="bold" text-anchor="middle">6</text>
<text x="1652.48" y="869.2" font-size="27" font-weight="bold" text-anchor="middle">8</text>
<text x="1734.6" y="869.2" font-size="27" font-weight="bold" text-anchor="middle">10</text>
<text x="1308.4" y="841.6" font-size="27" font-weight="bold" text-anchor="end">0</text>
<text x="1308.4" y="764.43" font-size="27" font-weight="bold" text-anchor="end">50</text>
<text x="1308.4" y="687.25" font-size="27" font-weight="bold" text-anchor="end">100</text>
<text x="1308.4" y="610.08" font-size="27" font-weight="bold" text-anchor="end">150</text>
<text x="1308.4" y="532.9" font-size="27" font-weight="bold" text-anchor="end">200</text>
<text transform="translate(18.98,62.65) scale(1.0071,1.0000)" font-weight="normal"><tspan font-size="69">(a)</tspan></text>
<text transform="translate(13,485.15) scale(1.0000,1.0000)" font-weight="normal"><tspan font-size="69">(b)</tspan></text>
<text transform="translate(585.93,67.55) scale(0.9887,1.0000)" font-weight="normal"><tspan font-size="69">(c)</tspan></text>
<text transform="translate(593.6,492.65) scale(1.0013,1.0000)" font-weight="normal"><tspan font-size="69">(d)</tspan></text>
<text transform="translate(1166.42,71.45) scale(0.9943,1.0000)" font-weight="normal"><tspan font-size="69">(e)</tspan></text>
<text transform="translate(1187.3,484.45) scale(1.0000,1.0000)" font-weight="normal"><tspan font-size="69">(f)</tspan></text>
<text transform="translate(63.2,358.51) rotate(-90) scale(0.9431,1.0000)" font-weight="bold"><tspan font-size="29.5">Current density(A g</tspan><tspan font-size="18.29" dy="-12.98">-1</tspan><tspan font-size="29.5" dy="12.98">)</tspan></text>
<text transform="translate(57.2,827.76) rotate(-90) scale(1.0033,1.0000)" font-weight="bold"><tspan font-size="34">Current density(A g</tspan><tspan font-size="21.08" dy="-14.96">-1</tspan><tspan font-size="34" dy="14.96">)</tspan></text>
<text transform="translate(646.8,374.51) rotate(-90) scale(1.0144,1.0000)" font-weight="bold"><tspan font-size="27">Potential(V vs Ag/AgCl)</tspan></text>
<text transform="translate(648,821.5) rotate(-90) scale(0.9971,1.0000)" font-weight="bold"><tspan font-size="27.5">Potential(V vs Ag/AgCl)</tspan></text>
<text transform="translate(1251,394) rotate(-90) scale(0.9329,1.0000)" font-weight="bold"><tspan font-size="30">Specific capacity (mAh g</tspan><tspan font-size="18.6" dy="-13.2">-1</tspan><tspan font-size="30" dy="13.2">)</tspan></text>
<text transform="translate(1259.5,823.73) rotate(-90) scale(0.9517,1.0000)" font-weight="bold"><tspan font-size="29.5">Specific capacity (mAh g</tspan><tspan font-size="18.29" dy="-12.98">-1</tspan><tspan font-size="29.5" dy="12.98">)</tspan></text>
<text transform="translate(194.2,450.4) scale(1.0009,1.0000)" font-weight="bold"><tspan font-size="27">Potential(V vs Ag/AgCl)</tspan></text>
<text transform="translate(211,905.6) scale(0.9973,1.0000)" font-weight="bold"><tspan font-size="27">Potential(V vs Ag/AgCl)</tspan></text>
<text transform="translate(895.41,462.7) scale(0.9855,1.0000)" font-weight="bold"><tspan font-size="27">Time(s)</tspan></text>
<text transform="translate(878.81,898.6) scale(0.9890,1.0000)" font-weight="bold"><tspan font-size="27">Time(s)</tspan></text>
<text transform="translate(1458.15,459.2) scale(1.0009,1.0000)" font-weight="bold"><tspan font-size="27">Cycle numbers</tspan></text>
<text transform="translate(1408.04,906.7) scale(1.0107,1.0000)" font-weight="bold"><tspan font-size="27.5">Current density(A g</tspan><tspan font-size="14.3" dy="-10.72">-1</tspan><tspan font-size="27.5" dy="10.72">)</tspan></text>
<path d="M164 76.1H212.6" stroke="#000000" stroke-width="2.8"/>
<path d="M164 106.2H212.6" stroke="#c81e23" stroke-width="2.8"/>
<path d="M164 136.3H212.6" stroke="#1a1aa8" stroke-width="2.8"/>
<path d="M164 166.4H212.6" stroke="#19736c" stroke-width="2.8"/>
<path d="M164 196.5H212.6" stroke="#cd28c8" stroke-width="2.8"/>
<text transform="translate(216.92,82.5) scale(1.1227,1.0000)" font-weight="bold"><tspan font-size="18.6">1 mVs</tspan><tspan font-size="12.65" dy="-9.49">-1</tspan></text>
<text transform="translate(217.76,112.5) scale(1.1227,1.0000)" font-weight="bold"><tspan font-size="18.6">5 mVs</tspan><tspan font-size="12.65" dy="-9.49">-1</tspan></text>
<text transform="translate(216.92,142.5) scale(1.1227,1.0000)" font-weight="bold"><tspan font-size="18.6">10 mVs</tspan><tspan font-size="12.65" dy="-9.49">-1</tspan></text>
<text transform="translate(217.76,172.5) scale(1.1227,1.0000)" font-weight="bold"><tspan font-size="18.6">20 mVs</tspan><tspan font-size="12.65" dy="-9.49">-1</tspan></text>
<text transform="translate(217.76,202.5) scale(1.1227,1.0000)" font-weight="bold"><tspan font-size="18.6">30 mVs</tspan><tspan font-size="12.65" dy="-9.49">-1</tspan></text>
<path d="M164.2 524.7H212.5" stroke="#000000" stroke-width="2.8"/>
<path d="M164.2 554.85H212.5" stroke="#c81e23" stroke-width="2.8"/>
<path d="M164.2 585H212.5" stroke="#1a1aa8" stroke-width="2.8"/>
<path d="M164.2 615.15H212.5" stroke="#19736c" stroke-width="2.8"/>
<path d="M164.2 645.3H212.5" stroke="#cd28c8" stroke-width="2.8"/>
<text transform="translate(215.8,531.7) scale(1.1312,1.0000)" font-weight="bold"><tspan font-size="18.6">1mVs</tspan><tspan font-size="12.65" dy="-9.49">-1</tspan></text>
<text transform="translate(216.65,561.85) scale(1.1312,1.0000)" font-weight="bold"><tspan font-size="18.6">5mVs</tspan><tspan font-size="12.65" dy="-9.49">-1</tspan></text>
<text transform="translate(215.8,592) scale(1.1312,1.0000)" font-weight="bold"><tspan font-size="18.6">10mVs</tspan><tspan font-size="12.65" dy="-9.49">-1</tspan></text>
<text transform="translate(216.65,622.15) scale(1.1312,1.0000)" font-weight="bold"><tspan font-size="18.6">20mVs</tspan><tspan font-size="12.65" dy="-9.49">-1</tspan></text>
<text transform="translate(216.65,652.3) scale(1.1312,1.0000)" font-weight="bold"><tspan font-size="18.6">30mVs</tspan><tspan font-size="12.65" dy="-9.49">-1</tspan></text>
<path d="M975.5 93.9H1038" stroke="#000000" stroke-width="2.8"/>
<path d="M975.5 133.2H1038" stroke="#c81e23" stroke-width="2.8"/>
<path d="M975.5 172.5H1038" stroke="#1a1aa8" stroke-width="2.8"/>
<text transform="translate(1042.77,102.2) scale(1.1160,1.0000)" font-weight="bold"><tspan font-size="26">1 A g</tspan><tspan font-size="14.3" dy="-13">-1</tspan></text>
<text transform="translate(1043.88,141.5) scale(1.1160,1.0000)" font-weight="bold"><tspan font-size="26">2 A g</tspan><tspan font-size="14.3" dy="-13">-1</tspan></text>
<text transform="translate(1044.72,180.8) scale(1.1160,1.0000)" font-weight="bold"><tspan font-size="26">4 A g</tspan><tspan font-size="14.3" dy="-13">-1</tspan></text>
<path d="M935.8 268.7H999.6" stroke="#19736c" stroke-width="2.8"/>
<path d="M935.8 307.7H999.6" stroke="#cd28c8" stroke-width="2.8"/>
<path d="M935.8 346.7H999.6" stroke="#70702d" stroke-width="2.8"/>
<path d="M997 535.9H1059.2" stroke="#000000" stroke-width="2.8"/>
<path d="M997 575.05H1059.2" stroke="#c81e23" stroke-width="2.8"/>
<path d="M997 614.2H1059.2" stroke="#1a1aa8" stroke-width="2.8"/>
<text transform="translate(1063.87,545) scale(1.1660,1.0000)" font-weight="bold"><tspan font-size="25">1 A g</tspan><tspan font-size="13.75" dy="-12.5">-1</tspan></text>
<text transform="translate(1065.03,584.2) scale(1.1660,1.0000)" font-weight="bold"><tspan font-size="25">2 A g</tspan><tspan font-size="13.75" dy="-12.5">-1</tspan></text>
<text transform="translate(1065.91,623.4) scale(1.1660,1.0000)" font-weight="bold"><tspan font-size="25">4 A g</tspan><tspan font-size="13.75" dy="-12.5">-1</tspan></text>
<path d="M953.3 708.7H1015.5" stroke="#19736c" stroke-width="2.8"/>
<path d="M953.3 748.05H1015.5" stroke="#cd28c8" stroke-width="2.8"/>
<path d="M953.3 787.4H1015.5" stroke="#70702d" stroke-width="2.8"/>
<text transform="translate(1005.27,277.1) scale(1.1016,1.0000)" font-weight="bold"><tspan font-size="26">6 A g</tspan><tspan font-size="14.3" dy="-13">-1</tspan></text>
<text transform="translate(1005.27,316.2) scale(1.1016,1.0000)" font-weight="bold"><tspan font-size="26">8 A g</tspan><tspan font-size="14.3" dy="-13">-1</tspan></text>
<text transform="translate(1003.9,355.3) scale(1.1016,1.0000)" font-weight="bold"><tspan font-size="26">10 A g</tspan><tspan font-size="14.3" dy="-13">-1</tspan></text>
<text transform="translate(1021.68,716.6) scale(1.0939,1.0000)" font-weight="bold"><tspan font-size="26">6 A g</tspan><tspan font-size="14.3" dy="-13">-1</tspan></text>
<text transform="translate(1021.68,755.95) scale(1.0939,1.0000)" font-weight="bold"><tspan font-size="26">8 A g</tspan><tspan font-size="14.3" dy="-13">-1</tspan></text>
<text transform="translate(1020.31,795.3) scale(1.0939,1.0000)" font-weight="bold"><tspan font-size="26">10 A g</tspan><tspan font-size="14.3" dy="-13">-1</tspan></text>
<text transform="translate(1573.44,95.2) scale(1.0567,1.0000)" font-weight="bold"><tspan font-size="20">S-Ni(OH)</tspan><tspan font-size="12.4" dy="4.4">2</tspan><tspan font-size="20" dy="-4.4">/MLG</tspan></text>
<text transform="translate(1574.24,127.2) scale(1.0567,1.0000)" font-weight="bold"><tspan font-size="20">L-Ni(OH)</tspan><tspan font-size="12.4" dy="4.4">2</tspan><tspan font-size="20" dy="-4.4">/MLG</tspan></text>
<text transform="translate(1573.44,159.2) scale(1.0567,1.0000)" font-weight="bold"><tspan font-size="20">S-Ni(OH)</tspan><tspan font-size="12.4" dy="4.4">2</tspan></text>
<text transform="translate(1574.24,191.2) scale(1.0567,1.0000)" font-weight="bold"><tspan font-size="20">L-Ni(OH)</tspan><tspan font-size="12.4" dy="4.4">2</tspan></text>
<rect x="1539.2" y="81.75" width="12" height="11.5" fill="#0000fa"/>
<ellipse cx="1545.2" cy="119.5" rx="6" ry="6" fill="#fa0000"/>
<path d="M1537.7 145.83H1552.7L1545.2 159.33Z" fill="#00f000"/>
<path d="M1545.2 175L1553.2 183.5L1545.2 192L1537.2 183.5Z" fill="#f500f5"/>
<text transform="translate(1391.89,726.3) scale(1.0078,1.0000)" font-weight="bold"><tspan font-size="21">S-Ni(OH)</tspan><tspan font-size="13.02" dy="4.62">2</tspan><tspan font-size="21" dy="-4.62">/MLG</tspan></text>
<text transform="translate(1392.65,758.5) scale(1.0078,1.0000)" font-weight="bold"><tspan font-size="21">L-Ni(OH)</tspan><tspan font-size="13.02" dy="4.62">2</tspan><tspan font-size="21" dy="-4.62">/MLG</tspan></text>
<text transform="translate(1391.89,790.7) scale(1.0078,1.0000)" font-weight="bold"><tspan font-size="21">S-Ni(OH)</tspan><tspan font-size="13.02" dy="4.62">2</tspan></text>
<text transform="translate(1392.65,822.9) scale(1.0078,1.0000)" font-weight="bold"><tspan font-size="21">L-Ni(OH)</tspan><tspan font-size="13.02" dy="4.62">2</tspan></text>
<path d="M1338.9 719.5H1388.1" stroke="#1a1aa8" stroke-width="3"/>
<rect x="1357" y="713" width="13" height="13" fill="#0000fa"/>
<path d="M1338.9 751.7H1388.1" stroke="#c81e23" stroke-width="3"/>
<ellipse cx="1363.5" cy="751.7" rx="8.15" ry="8.15" fill="#fa0000"/>
<path d="M1338.9 783.9H1388.1" stroke="#1ed21e" stroke-width="3"/>
<path d="M1353.25 776.34H1373.75L1363.5 794.34Z" fill="#00f000"/>
<path d="M1338.9 816.1H1388.1" stroke="#cd28c8" stroke-width="3"/>
<path d="M1363.5 806.35L1373.5 816.1L1363.5 825.85L1353.5 816.1Z" fill="#f500f5"/>
</svg>
</body></html>
